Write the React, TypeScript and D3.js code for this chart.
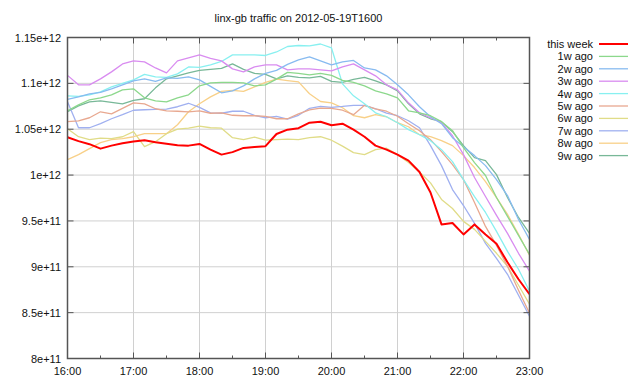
import React from "react";
import * as d3 from "d3";

// values in units of 1e10 bytes, sampled every 10 minutes from 16:00 to 23:00
const UNIT = 1e10;
const MINUTES = d3.range(0, 421, 10);

const thisWeek = [104.13,103.70,103.37,102.88,103.21,103.48,103.67,103.80,103.59,103.42,103.26,103.21,103.39,102.77,102.23,102.50,102.96,103.07,103.15,104.48,104.95,105.11,105.71,105.82,105.43,105.60,104.95,104.18,103.21,102.77,102.23,101.58,100.33,98.10,94.62,94.78,93.53,94.62,93.53,92.50,90.49,88.64,87.01];
const w1 = [107.01,107.66,108.21,108.42,108.75,109.29,109.40,108.42,108.10,107.99,108.42,108.75,109.73,110.05,110.11,110.11,110.05,109.73,109.84,110.46,111.20,111.09,110.92,111.09,110.87,110.33,110.11,109.73,109.18,108.86,108.42,107.01,106.79,106.47,105.82,104.84,102.99,101.36,99.95,97.55,95.49,93.42,91.36];
const w2 = [108.26,108.53,108.86,109.02,109.40,109.84,110.27,110.49,110.22,110.60,110.54,110.71,110.38,109.67,108.97,109.18,109.73,110.49,111.09,111.41,112.07,112.55,112.88,112.45,112.01,112.34,112.50,111.68,111.47,110.82,109.84,108.75,107.45,106.36,105.60,104.08,103.10,102.12,101.03,99.51,97.77,95.16,92.99];
const w3 = [110.87,109.84,109.84,110.49,111.25,112.12,112.45,112.34,111.68,111.14,112.45,112.77,113.10,112.72,112.45,111.58,111.25,111.79,112.01,112.01,111.47,111.58,111.58,111.47,111.36,111.79,112.12,111.47,110.82,109.84,109.29,107.88,106.79,106.25,105.71,104.29,102.23,99.73,97.66,95.60,93.64,91.47,89.51];
const w4 = [108.64,108.59,108.75,109.08,109.62,110.00,110.38,110.98,110.71,110.65,111.03,111.79,111.74,112.01,112.39,113.10,113.10,113.10,113.04,113.42,114.02,114.13,114.08,114.29,113.86,109.95,108.64,107.77,106.79,106.36,105.71,104.95,104.40,103.75,102.77,101.47,99.51,97.66,95.92,93.86,91.68,89.73,87.34];
const w5 = [105.82,105.92,106.25,106.90,106.68,107.28,107.88,107.77,107.23,107.01,106.96,106.90,107.01,106.74,106.79,106.52,106.47,106.47,106.41,106.14,106.14,106.68,107.12,107.30,107.28,107.07,106.58,107.61,107.23,106.96,106.41,105.60,104.84,103.86,102.55,101.14,99.51,97.01,94.40,92.34,90.05,87.45,84.95];
const w6 = [105.05,104.18,103.86,104.02,103.97,104.18,104.73,103.10,103.64,104.51,105.00,105.11,105.33,105.16,105.11,104.08,103.86,104.13,103.80,103.86,103.93,103.86,104.08,104.18,103.80,103.15,102.45,102.23,102.77,102.93,102.23,101.36,100.33,99.15,97.34,96.36,94.95,94.08,92.77,91.47,90.05,87.99,85.92];
const w7 = [108.00,105.16,105.16,105.60,106.14,106.58,107.07,107.12,107.17,107.20,107.45,107.83,107.39,106.79,106.74,106.96,106.96,106.52,106.25,106.41,106.09,106.52,107.28,107.50,107.39,107.48,107.61,107.61,107.23,106.76,106.47,105.92,105.16,103.21,101.03,98.42,96.68,94.73,92.55,90.92,89.18,86.90,84.62];
const w8 = [101.68,102.23,102.88,103.53,103.86,103.97,104.18,104.51,104.51,104.51,105.49,106.90,107.77,108.53,109.13,109.24,109.13,109.62,110.11,110.46,110.30,110.16,108.86,108.02,107.88,107.34,106.47,106.25,106.58,106.36,105.71,105.27,104.40,104.18,103.75,103.21,102.12,100.82,99.29,97.55,95.71,93.53,91.25];
const w9 = [106.90,107.55,107.99,108.10,107.93,107.77,108.15,108.32,109.51,110.49,110.82,111.14,111.41,111.52,111.63,112.12,111.52,111.09,110.98,110.49,110.82,110.65,110.60,110.76,110.22,110.11,110.43,110.65,110.27,109.84,109.18,107.77,106.68,106.14,105.82,104.73,103.21,101.90,101.58,100.05,97.55,95.38,93.64];

const seriesNames = ["this week","1w ago","2w ago","3w ago","4w ago","5w ago","6w ago","7w ago","8w ago","9w ago"];
const seriesValues = [thisWeek, w1, w2, w3, w4, w5, w6, w7, w8, w9];
const seriesColors = ["#ff0000","#8cd88c","#88bbf0","#d98cf0","#88f0f0","#e8a890","#e0dc88","#a0b0f0","#f8d088","#78b898"];

const xTickLabels = ["16:00","17:00","18:00","19:00","20:00","21:00","22:00","23:00"];
const yTickValues = [80,85,90,95,100,105,110,115];
const yTickLabels = ["8e+11","8.5e+11","9e+11","9.5e+11","1e+12","1.05e+12","1.1e+12","1.15e+12"];
const title = "linx-gb traffic on 2012-05-19T1600";

const FONT = "'Liberation Sans', Arial, Helvetica, sans-serif";

export default function App() {
  const W = 640, H = 384;
  const left = 67.5, right = 529.5, top = 37.5, bottom = 358.5;
  const x = d3.scaleLinear().domain([0, 420]).range([left, right]);
  const y = d3.scaleLinear().domain([80 * UNIT, 115 * UNIT]).range([bottom, top]);
  const line = d3.line<number>()
    .x((_, i) => x(MINUTES[i]))
    .y((d) => y(d * UNIT));

  const hourTicks = d3.range(0, 421, 60);
  const minorTicks = d3.range(30, 420, 60);
  const axisColor = "#555";
  const gridColor = "#d0d0d0";

  const order = d3.range(seriesNames.length).reverse();

  return (
    <svg width={W} height={H} style={{ position: "absolute", left: 0, top: 0, background: "#fff" }} fontFamily={FONT}>
      <defs>
        <clipPath id="plot">
          <rect x={left} y={top} width={right - left} height={bottom - top} />
        </clipPath>
      </defs>
      <text x={(left + right) / 2} y={22} textAnchor="middle" fontSize={11} fill="#111">{title}</text>

      {/* grid */}
      {hourTicks.slice(1, -1).map((m) => (
        <line key={"gx" + m} x1={x(m)} x2={x(m)} y1={top} y2={bottom} stroke={gridColor} strokeWidth={1} />
      ))}
      {yTickValues.slice(1, -1).map((v) => (
        <line key={"gy" + v} x1={left} x2={right} y1={y(v * UNIT)} y2={y(v * UNIT)} stroke={gridColor} strokeWidth={1} />
      ))}

      {/* series */}
      <g clipPath="url(#plot)">
        {order.map((i) => (
          <path key={seriesNames[i]} d={line(seriesValues[i]) || ""} fill="none"
            stroke={seriesColors[i]} strokeWidth={i === 0 ? 2 : 1.3} strokeLinejoin="round" />
        ))}
      </g>

      {/* ticks */}
      {hourTicks.map((m) => (
        <g key={"tx" + m}>
          <line x1={x(m)} x2={x(m)} y1={bottom} y2={bottom - 6} stroke={axisColor} />
          <line x1={x(m)} x2={x(m)} y1={top} y2={top + 6} stroke={axisColor} />
        </g>
      ))}
      {minorTicks.map((m) => (
        <g key={"mx" + m}>
          <line x1={x(m)} x2={x(m)} y1={bottom} y2={bottom - 3} stroke={axisColor} />
          <line x1={x(m)} x2={x(m)} y1={top} y2={top + 3} stroke={axisColor} />
        </g>
      ))}
      {yTickValues.map((v) => (
        <g key={"ty" + v}>
          <line x1={left} x2={left + 6} y1={y(v * UNIT)} y2={y(v * UNIT)} stroke={axisColor} />
          <line x1={right} x2={right - 6} y1={y(v * UNIT)} y2={y(v * UNIT)} stroke={axisColor} />
        </g>
      ))}

      {/* border */}
      <rect x={left} y={top} width={right - left} height={bottom - top} fill="none" stroke={axisColor} strokeWidth={1.5} />

      {/* tick labels */}
      {xTickLabels.map((t, i) => (
        <text key={t} x={x(hourTicks[i])} y={375} textAnchor="middle" fontSize={11} fill="#111">{t}</text>
      ))}
      {yTickLabels.map((t, i) => (
        <text key={t} x={61} y={y(yTickValues[i] * UNIT) + 4} textAnchor="end" fontSize={11} fill="#111">{t}</text>
      ))}

      {/* legend */}
      {seriesNames.map((n, i) => {
        const ly = 44 + i * 12.4;
        return (
          <g key={"lg" + n}>
            <text x={593} y={ly + 4} textAnchor="end" fontSize={11} fill="#111">{n}</text>
            <line x1={599} x2={628} y1={ly} y2={ly} stroke={seriesColors[i]} strokeWidth={i === 0 ? 2 : 1.3} />
          </g>
        );
      })}
    </svg>
  );
}
